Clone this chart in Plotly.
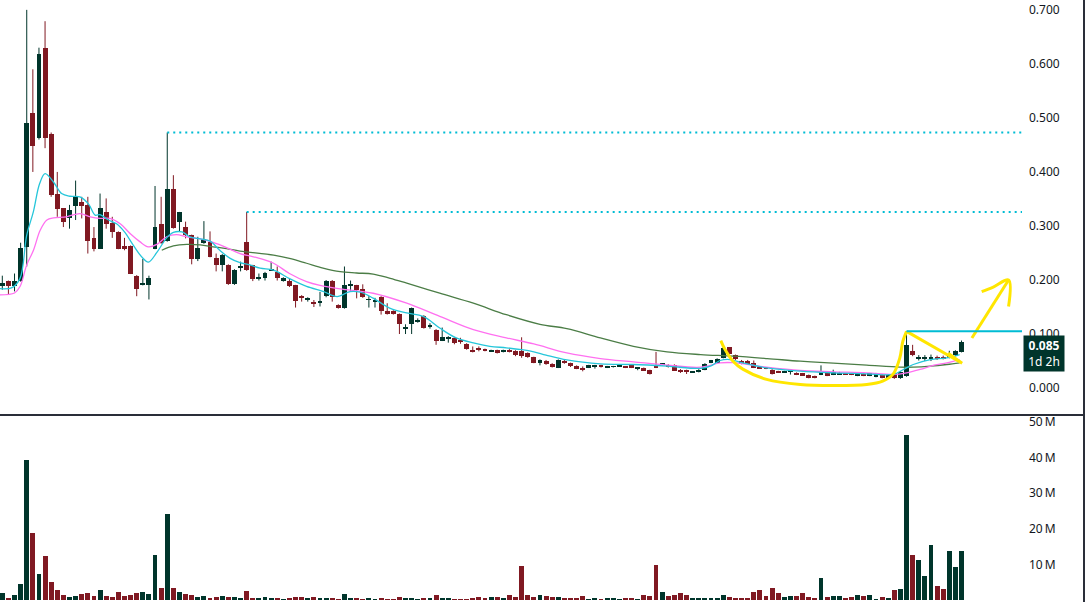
import plotly.graph_objects as go

# ---------------- data ----------------
opens = [0.188,0.198,0.188,0.198,0.262,0.510,0.462,0.630,0.470,0.359,
         0.333,0.314,0.337,0.344,0.339,0.278,0.258,0.325,0.305,0.289,
         0.263,0.263,0.208,0.191,0.191,0.258,0.304,0.2725,0.368,0.308,
         0.298,0.283,0.239,0.268,0.270,0.240,0.228,0.228,0.192,0.223,
         0.270,0.227,0.203,0.203,0.218,0.214,0.198,0.199,0.190,0.169,
         0.163,0.160,0.159,0.171,0.199,0.154,0.148,0.189,0.190,0.184,
         0.163,0.160,0.169,0.143,0.143,0.1375,0.110,0.118,0.124,0.134,
         0.113,0.108,0.088,0.092,0.093,0.088,0.082,0.069,0.074,0.072,
         0.068,0.070,0.067,0.0705,0.069,0.069,0.065,0.057,0.047,0.051,
         0.045,0.038,0.051,0.046,0.041,0.037,0.038,0.039,0.042,0.0385,
         0.039,0.040,0.0385,0.042,0.036,0.037,0.033,0.042,0.0435,0.0435,
         0.0435,0.034,0.033,0.029,0.030,0.034,0.047,0.047,0.056,0.0755,
         0.061,0.051,0.051,0.0465,0.0375,0.037,0.034,0.031,0.029,0.030,
         0.028,0.027,0.024,0.022,0.025,0.0295,0.025,0.026,0.0265,0.026,
         0.023,0.026,0.023,0.021,0.025,0.019,0.027,0.018,0.022,0.069,
         0.0555,0.0555,0.055,0.056,0.0555,0.056,0.061,0.067]
highs = [0.208,0.199,0.212,0.269,0.700,0.590,0.630,0.679,0.473,0.400,
         0.333,0.339,0.384,0.354,0.354,0.298,0.360,0.351,0.317,0.290,
         0.278,0.264,0.209,0.239,0.208,0.374,0.354,0.473,0.394,0.326,
         0.308,0.284,0.280,0.309,0.290,0.249,0.248,0.229,0.220,0.234,
         0.326,0.228,0.212,0.215,0.234,0.225,0.205,0.203,0.191,0.172,
         0.168,0.163,0.178,0.200,0.200,0.155,0.225,0.199,0.191,0.192,
         0.170,0.167,0.170,0.157,0.144,0.138,0.118,0.149,0.129,0.135,
         0.120,0.109,0.112,0.096,0.094,0.093,0.083,0.077,0.077,0.073,
         0.071,0.071,0.071,0.072,0.070,0.094,0.066,0.058,0.053,0.052,
         0.046,0.053,0.052,0.047,0.042,0.040,0.043,0.043,0.043,0.041,
         0.041,0.044,0.039,0.043,0.037,0.038,0.034,0.067,0.046,0.044,
         0.044,0.035,0.034,0.031,0.035,0.046,0.052,0.055,0.0755,0.076,
         0.062,0.052,0.052,0.051,0.038,0.038,0.035,0.032,0.032,0.034,
         0.029,0.028,0.025,0.023,0.042,0.030,0.034,0.030,0.027,0.027,
         0.027,0.027,0.028,0.028,0.026,0.026,0.028,0.031,0.105,0.080,
         0.061,0.061,0.062,0.060,0.060,0.069,0.070,0.088]
lows = [0.182,0.174,0.179,0.197,0.225,0.400,0.460,0.444,0.354,0.317,
        0.298,0.295,0.311,0.314,0.249,0.253,0.258,0.295,0.278,0.257,
        0.255,0.211,0.170,0.190,0.164,0.257,0.267,0.271,0.295,0.290,
        0.277,0.229,0.235,0.267,0.242,0.216,0.216,0.191,0.191,0.216,
        0.217,0.198,0.199,0.199,0.217,0.199,0.197,0.187,0.149,0.160,
        0.160,0.150,0.151,0.168,0.160,0.147,0.147,0.180,0.166,0.167,
        0.149,0.149,0.136,0.136,0.136,0.100,0.100,0.100,0.121,0.110,
        0.110,0.080,0.087,0.084,0.081,0.082,0.071,0.066,0.068,0.068,
        0.067,0.064,0.066,0.066,0.059,0.056,0.056,0.046,0.042,0.043,
        0.038,0.037,0.045,0.039,0.035,0.031,0.037,0.036,0.038,0.037,
        0.038,0.039,0.037,0.037,0.033,0.032,0.025,0.037,0.042,0.038,
        0.032,0.028,0.026,0.028,0.029,0.033,0.046,0.046,0.055,0.062,
        0.052,0.044,0.043,0.037,0.036,0.035,0.025,0.028,0.028,0.025,
        0.024,0.023,0.018,0.018,0.024,0.022,0.024,0.025,0.025,0.024,
        0.022,0.022,0.022,0.020,0.018,0.018,0.017,0.017,0.021,0.059,
        0.051,0.050,0.050,0.052,0.053,0.055,0.059,0.066]
closes = [0.194,0.188,0.198,0.260,0.490,0.448,0.619,0.462,0.358,0.332,
          0.308,0.329,0.354,0.337,0.272,0.257,0.333,0.303,0.288,0.258,
          0.258,0.212,0.184,0.193,0.204,0.298,0.268,0.368,0.296,0.325,
          0.283,0.239,0.260,0.276,0.243,0.228,0.247,0.192,0.219,0.225,
          0.218,0.202,0.205,0.2135,0.219,0.203,0.204,0.188,0.162,0.167,
          0.165,0.157,0.161,0.199,0.169,0.148,0.190,0.191,0.182,0.168,
          0.164,0.161,0.142,0.137,0.138,0.118,0.112,0.149,0.126,0.112,
          0.115,0.088,0.094,0.094,0.083,0.086,0.072,0.067,0.072,0.069,
          0.070,0.065,0.070,0.067,0.061,0.059,0.057,0.047,0.052,0.044,
          0.039,0.052,0.046,0.040,0.036,0.034,0.042,0.042,0.039,0.0395,
          0.040,0.0435,0.0375,0.0375,0.0365,0.0325,0.026,0.0385,0.044,0.039,
          0.0325,0.029,0.030,0.0305,0.034,0.045,0.0515,0.0545,0.074,0.063,
          0.053,0.045,0.044,0.0375,0.037,0.036,0.026,0.029,0.031,0.031,
          0.025,0.024,0.019,0.019,0.0295,0.023,0.0295,0.0285,0.026,0.0255,
          0.026,0.023,0.027,0.0275,0.019,0.025,0.018,0.0295,0.079,0.061,
          0.0565,0.056,0.056,0.055,0.0545,0.063,0.068,0.085]
volumes_m = [2.0,0.6,1.4,4.5,39.4,18.7,7.3,12.3,5.0,2.8,
             1.4,0.8,1.1,1.7,2.0,1.1,2.8,1.1,0.8,2.2,
             1.1,1.4,2.0,2.2,1.7,12.6,3.4,24.3,3.4,2.2,
             1.7,1.4,0.8,1.1,0.6,0.8,1.1,0.8,0.8,0.6,
             2.5,0.6,0.6,0.8,0.6,0.6,0.3,0.6,0.8,0.8,
             0.6,0.8,0.6,0.6,0.6,0.3,1.7,0.6,0.6,0.3,
             0.6,0.3,0.6,0.3,0.3,0.8,0.6,0.6,0.3,0.6,
             0.6,1.4,0.6,0.6,0.3,0.3,0.3,0.6,0.8,0.6,
             0.8,0.8,0.6,1.4,0.8,9.5,1.4,0.8,1.4,1.1,
             0.8,0.8,0.6,0.6,0.6,1.1,0.3,0.6,0.3,0.6,
             0.6,0.3,0.6,0.6,0.3,1.4,1.1,9.8,2.2,1.1,
             1.4,2.0,1.4,0.6,0.6,0.6,0.6,0.6,1.4,0.8,
             0.6,0.6,0.6,2.2,2.8,1.1,3.4,2.0,0.8,1.1,
             1.1,2.0,0.8,0.6,6.1,0.8,1.1,1.1,0.6,0.8,
             1.4,1.1,1.4,0.3,0.8,0.6,2.8,3.1,46.4,12.6,
             11.2,6.7,15.4,3.9,3.1,13.7,9.2,13.7]

# moving averages (bar index, price)
ma_fast_x = [-0.4,1.6,2.9,4,5.1,6.1,7,8.4,9.7,11.1,12.7,14.1,15.2,16,17.4,18.7,20,21.4,22.8,23.9,
             25.3,26.9,28,29.4,30.7,32.4,34,35.6,37.3,38.9,40.5,42.2,44.4,47.1,49.8,52.6,54.8,56.9,58.6,60.7,
             63.4,66.2,68.9,71.6,74.3,77.1,79.8,82.5,85,87,89,92.4,97.9,103.3,108.8,114.3,116,117.5,119.1,121.2,
             125.1,130.6,136,141.5,145.8,147.5,149.1,151.9,154.6,156.7]
ma_fast_y = [0.184,0.186,0.203,0.283,0.327,0.378,0.397,0.381,0.360,0.355,0.354,0.341,0.320,0.321,0.311,0.304,0.289,0.265,0.243,0.233,
             0.251,0.278,0.288,0.289,0.280,0.276,0.272,0.255,0.240,0.232,0.228,0.222,0.2185,0.202,0.188,0.1786,0.1694,0.1786,0.1774,0.1664,
             0.148,0.139,0.1326,0.111,0.0927,0.0835,0.0773,0.0745,0.071,0.067,0.061,0.052,0.0448,0.0436,0.0405,0.0365,0.041,0.051,0.0528,0.0466,
             0.0374,0.0313,0.0282,0.0264,0.0252,0.0344,0.0436,0.0528,0.0559,0.062]
ma_mid_x = [-0.4,2,2.9,4,5.1,6.2,7.3,8.4,10.5,12.7,14.4,16,17.6,19.3,21,22.5,23.9,25.3,26.9,28.5,
            30.2,32.4,34.5,36.7,38.9,41.1,44.4,47,49.8,52,55.3,60.7,66.2,71.6,77.1,82.5,87,92.4,97.9,103.3,
            108.8,114.3,117.5,119.6,125.1,130.6,136,141.5,145.8,148,150.2,152.5,154.6,156.7]
ma_mid_y = [0.1725,0.176,0.188,0.228,0.255,0.292,0.311,0.315,0.317,0.323,0.317,0.314,0.314,0.304,0.285,0.271,0.2615,0.266,0.280,0.284,
            0.280,0.276,0.2695,0.260,0.249,0.243,0.231,0.212,0.197,0.190,0.1835,0.1755,0.157,0.1326,0.108,0.093,0.0816,0.065,0.0546,0.0485,
            0.0424,0.0387,0.0466,0.0470,0.0387,0.0325,0.0301,0.0282,0.0252,0.0282,0.0344,0.0424,0.0467,0.0528]
ma_slow_x = [26.1,28,30.2,32.4,34.5,36.7,38.9,44.4,47,49.8,52.5,55.3,58,60.7,63.5,66.2,71.6,77.1,82.5,88,
             92.4,97.9,103.3,108.8,114.3,119.7,125.2,130.6,136,141.5,146.9,149.1,151.9,154.6,156.7]
ma_slow_y = [0.255,0.263,0.266,0.265,0.2615,0.258,0.2535,0.246,0.240,0.231,0.222,0.2155,0.213,0.211,0.203,0.194,0.1755,0.157,0.1357,0.118,
             0.110,0.0927,0.0773,0.0669,0.062,0.059,0.0546,0.0497,0.046,0.0424,0.0387,0.0387,0.0405,0.0436,0.0467]

# hand-drawn yellow marks (bar index, price)
bowl_x = [117.6,118.3,119.6,121.2,125.1,130.6,136,141.5,144.1,145.8,146.9,147.4,148.0]
bowl_y = [0.0878,0.0712,0.0497,0.0350,0.0160,0.0067,0.0048,0.0067,0.0129,0.0258,0.0558,0.0866,0.105]
wedge_x = [148.0,157.1,154.8]
wedge_y = [0.105,0.046,0.0645]
arrow_x = [158.7,164.7]
arrow_y = [0.0926,0.200]
arrowhead_x = [160.3,162.2,164.7,164.7]
arrowhead_y = [0.1786,0.187,0.200,0.151]

level_bars = [27, 40]          # dotted resistance lines start at these highs
breakout_bar = 148             # solid line from this high

price_ticks = [0.0,0.1,0.2,0.3,0.4,0.5,0.6,0.7]
vol_ticks = [10,20,30,40,50]

# ---------------- styling ----------------
GREEN = "#00352b"
RED = "#801922"
CYAN = "#26c6da"
PINK = "#ff70f0"
OLIVE = "#4b7d46"
LEVEL = "#00bcd4"
YELLOW = "#ffe600"
AXIS_TXT = "#131722"
X_MIN, X_MAX = -0.376, 166.9

n = len(closes)
idx = list(range(n))
up = [c >= o for o, c in zip(opens, closes)]
colors = [GREEN if u else RED for u in up]

fig = go.Figure()

# wicks
for flag, col in ((True, GREEN), (False, RED)):
    wx, wy = [], []
    for i in idx:
        if up[i] == flag:
            wx += [i, i, None]
            wy += [lows[i], highs[i], None]
    fig.add_trace(go.Scatter(x=wx, y=wy, mode="lines", line=dict(color=col, width=1),
                             hoverinfo="skip", showlegend=False, yaxis="y"))

# bodies
fig.add_trace(go.Bar(x=idx, base=[min(o, c) for o, c in zip(opens, closes)],
                     y=[max(abs(c - o), 0.0016) for o, c in zip(opens, closes)],
                     width=0.8, marker=dict(color=colors, line=dict(width=0)),
                     showlegend=False, yaxis="y"))

# moving averages
fig.add_trace(go.Scatter(x=ma_slow_x, y=ma_slow_y, mode="lines", line=dict(color=OLIVE, width=1.3, shape="spline"),
                         showlegend=False, yaxis="y"))
fig.add_trace(go.Scatter(x=ma_mid_x, y=ma_mid_y, mode="lines", line=dict(color=PINK, width=1.3, shape="spline"),
                         showlegend=False, yaxis="y"))
fig.add_trace(go.Scatter(x=ma_fast_x, y=ma_fast_y, mode="lines", line=dict(color=CYAN, width=1.3, shape="spline"),
                         showlegend=False, yaxis="y"))

# volume
fig.add_trace(go.Bar(x=idx, y=[v * 1e6 for v in volumes_m], width=0.8,
                     marker=dict(color=colors, line=dict(width=0)), showlegend=False, yaxis="y2"))

# yellow drawings
for xs, ys, shp in ((bowl_x, bowl_y, "spline"), (wedge_x, wedge_y, "linear"),
                    (arrow_x, arrow_y, "linear"), (arrowhead_x, arrowhead_y, "spline")):
    fig.add_trace(go.Scatter(x=xs, y=ys, mode="lines", line=dict(color=YELLOW, width=3, shape=shp),
                             hoverinfo="skip", showlegend=False, yaxis="y"))

shapes = []
for b in level_bars:
    shapes.append(dict(type="line", xref="x", yref="y", x0=b, x1=X_MAX, y0=highs[b], y1=highs[b],
                       line=dict(color=LEVEL, width=2, dash="2px,4px")))
shapes.append(dict(type="line", xref="x", yref="y", x0=breakout_bar, x1=X_MAX,
                   y0=highs[breakout_bar], y1=highs[breakout_bar], line=dict(color=LEVEL, width=2)))
# pane separator and right border
PLOT_W = 1087 - 65
shapes.append(dict(type="line", xref="paper", yref="paper", x0=0, x1=1085 / PLOT_W,
                   y0=(600 - 414) / 600, y1=(600 - 414) / 600, line=dict(color="#2a2e39", width=2)))
shapes.append(dict(type="line", xref="paper", yref="paper", x0=1084 / PLOT_W, x1=1084 / PLOT_W,
                   y0=-0.01, y1=1.01, line=dict(color="#2a2e39", width=2)))

annotations = [dict(xref="paper", yref="y", x=1.0, y=closes[-1], xanchor="left", yanchor="top",
                    yshift=7, xshift=1, showarrow=False, align="center",
                    text="<b>%.3f</b><br>1d 2h" % closes[-1],
                    font=dict(family="Noto Sans", size=12, color="#ffffff"),
                    bgcolor=GREEN, borderpad=1, width=38)]

fig.update_layout(
    width=1087, height=602,
    margin=dict(l=0, r=65, t=0, b=2),
    paper_bgcolor="#ffffff", plot_bgcolor="#ffffff",
    bargap=0, barmode="overlay",
    showlegend=False,
    shapes=shapes, annotations=annotations,
    font=dict(family="Noto Sans", size=12, color=AXIS_TXT),
    xaxis=dict(range=[X_MIN, X_MAX], showticklabels=False, showgrid=False, zeroline=False,
               showline=False, ticks=""),
    yaxis=dict(domain=[(600 - 413) / 600, 1], range=[-0.0479, 0.7127], side="right",
               tickvals=price_ticks, ticktext=["%.3f" % t for t in price_ticks],
               showgrid=False, zeroline=False, showline=False, ticks="", ticklabelstandoff=6,
               tickfont=dict(size=12, color=AXIS_TXT)),
    yaxis2=dict(domain=[0, 185 / 600], range=[0, 185 / 3.58 * 1e6], side="right", anchor="x",
                tickvals=[v * 1e6 for v in vol_ticks], ticktext=["%d\u2009M" % v for v in vol_ticks],
                showgrid=False, zeroline=False, showline=False, ticks="", ticklabelstandoff=6,
                tickfont=dict(size=12, color=AXIS_TXT)),
)

fig.write_html("out.html", config={"displayModeBar": False},
               post_script="document.body.style.margin='0';")
